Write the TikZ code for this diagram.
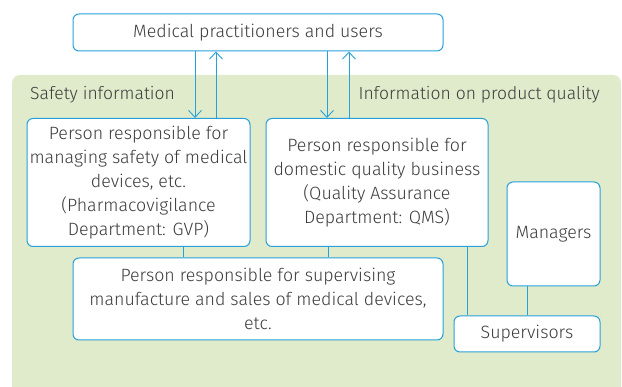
\documentclass[tikz,border=0pt]{standalone}
\usepackage{fontspec}
\setmainfont{Fira Sans Light}
\usetikzlibrary{arrows.meta}
\definecolor{bg}{RGB}{223,235,203}
\definecolor{ln}{RGB}{40,160,218}
\definecolor{tx}{RGB}{60,60,60}
\begin{document}
\begin{tikzpicture}[x=1pt,y=-1pt,
  box/.style={draw=ln, line width=1pt, fill=white, rounded corners=6pt, align=center, text=tx, inner sep=0pt,
    font=\fontsize{17.8}{24}\selectfont},
  conn/.style={draw=ln, line width=0.9pt},
  arr/.style={conn, -{Straight Barb[length=7pt,width=13pt,line width=0.9pt]}},
  lbl/.style={text=tx, font=\fontsize{17.5}{20}\selectfont, inner sep=0pt}]
\useasboundingbox (0,0) rectangle (622,387);
\fill[bg, rounded corners=8pt] (12,75) rectangle (621,400);
\node[box, minimum width=370pt, minimum height=37pt] (top) at (258,32.5) {Medical practitioners and users};
\node[box, minimum width=223pt, minimum height=128pt] (b1) at (138.5,182.5)
  {Person responsible for\\managing safety of medical\\devices, etc.\\(Pharmacovigilance\\Department: GVP)};
\node[box, minimum width=222pt, minimum height=128pt] (b2) at (377,182.5)
  {Person responsible for\\domestic quality business\\(Quality Assurance\\Department: QMS)};
\node[box, minimum width=370pt, minimum height=82pt] (b3) at (258,299)
  {Person responsible for supervising\\manufacture and sales of medical devices,\\etc.};
\node[box, minimum width=93pt, minimum height=104pt] (mgr) at (553.5,234) {Managers};
\node[box, minimum width=146pt, minimum height=36pt] (sup) at (527,334) {Supervisors};
\node[lbl, anchor=base west] (si) at (30,100) {Safety information};
\node[lbl, anchor=base east] (iq) at (600,100) {Information on product quality};
\draw[arr] (top.south -| 195,0) -- (b1.north -| 195,0);
\draw[arr] (b1.north -| 216,0) -- (top.south -| 216,0);
\draw[arr] (top.south -| 327,0) -- (b2.north -| 327,0);
\draw[arr] (b2.north -| 349,0) -- (top.south -| 349,0);
\draw[conn] (b1.south -| 183,0) -- (b3.north -| 183,0);
\draw[conn] (b2.south -| 328,0) -- (b3.north -| 328,0);
\draw[conn] (b2.south -| 467,0) -- (sup.north -| 467,0);
\draw[conn] (mgr.south -| 527,0) -- (sup.north -| 527,0);
\end{tikzpicture}
\end{document}
